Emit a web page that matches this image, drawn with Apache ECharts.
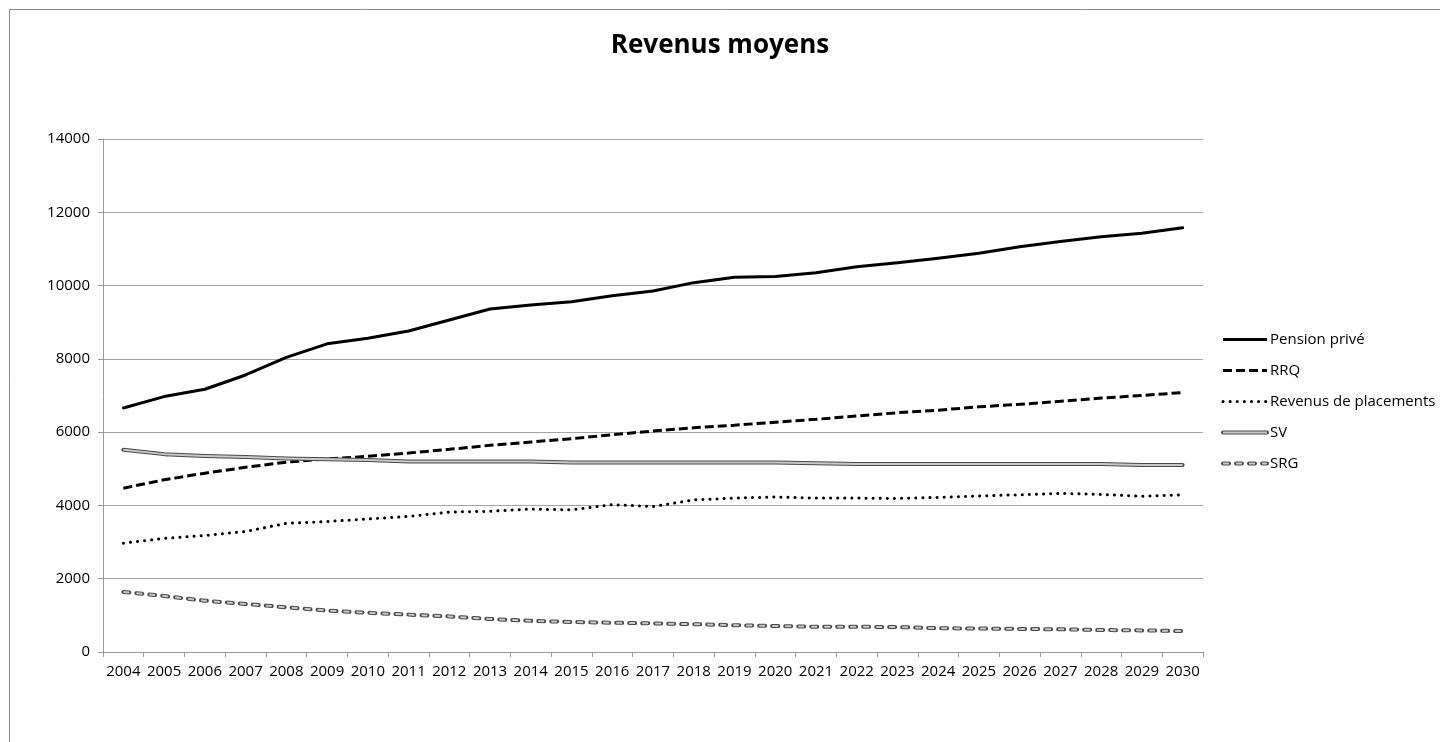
<!DOCTYPE html>
<html>
<head>
<meta charset="utf-8">
<title>Revenus moyens</title>
<script src="https://cdn.jsdelivr.net/npm/echarts@6/dist/echarts.min.js"></script>
<style>
    html, body { margin: 0; padding: 0; background: #fff; }
    #revenus_chart { width: 1440px; height: 742px; }
</style>
</head>
<body>
<div id="revenus_chart"></div>
<script>
// donnees
var years = ['2004', '2005', '2006', '2007', '2008', '2009', '2010', '2011', '2012', '2013', '2014', '2015', '2016', '2017',
    '2018', '2019', '2020', '2021', '2022', '2023', '2024', '2025', '2026', '2027', '2028', '2029', '2030'];
var pensionPrive = [6660, 6970, 7170, 7560, 8040, 8410, 8560, 8760, 9060, 9360, 9470, 9560, 9720, 9850,
    10080, 10225, 10250, 10350, 10515, 10625, 10745, 10880, 11060, 11200, 11335, 11425, 11580];
var rrq = [4470, 4700, 4880, 5040, 5180, 5270, 5340, 5430, 5530, 5640, 5730, 5820, 5930, 6030,
    6120, 6190, 6270, 6350, 6440, 6530, 6600, 6690, 6760, 6840, 6930, 7000, 7080];
var placements = [2970, 3100, 3180, 3290, 3510, 3560, 3630, 3700, 3820, 3840, 3900, 3880, 4020, 3970,
    4150, 4200, 4230, 4200, 4200, 4190, 4220, 4260, 4290, 4330, 4300, 4250, 4290];
var sv = [5520, 5400, 5350, 5320, 5280, 5260, 5240, 5200, 5200, 5200, 5200, 5170, 5170, 5170,
    5170, 5170, 5170, 5150, 5130, 5130, 5130, 5130, 5130, 5130, 5130, 5100, 5100];
var srg = [1640, 1530, 1400, 1310, 1220, 1130, 1070, 1020, 970, 900, 850, 820, 800, 780,
    760, 730, 710, 690, 690, 680, 650, 640, 630, 620, 600, 590, 570];
var yTicks = { min: 0, max: 14000, interval: 2000 };

var FONT = 'Open Sans';

// icones de legende dessinees en svg (lignes simples et doubles)
function svgIcon(lines) {
    var svg = '<svg xmlns="http://www.w3.org/2000/svg" width="48" height="14">' + lines + '</svg>';
    return 'image://data:image/svg+xml;charset=utf-8,' + encodeURIComponent(svg);
}
function iconLine(color, width, dash, cap) {
    return '<line x1="2" y1="7" x2="46" y2="7" stroke="' + color + '" stroke-width="' + width + '"' +
        (dash ? ' stroke-dasharray="' + dash + '"' : '') +
        ' stroke-linecap="' + (cap || 'butt') + '"/>';
}
var icons = {
    pension: svgIcon(iconLine('#000', 3)),
    rrq: svgIcon(iconLine('#000', 3, '9 4')),
    placements: svgIcon(iconLine('#000', 3, '0.1 7', 'round')),
    sv: svgIcon(iconLine('#4a4a4a', 4, null, 'round') + iconLine('#c8c8c8', 2)),
    srg: svgIcon(iconLine('#4a4a4a', 4, '6 7', 'round') + iconLine('#c8c8c8', 2, '6 7'))
};

var myChart = echarts.init(document.getElementById('revenus_chart'));

var option = {
    animation: false,
    backgroundColor: '#fff',
    title: {
        text: 'Revenus moyens',
        left: 'center',
        top: 28,
        textStyle: { fontFamily: FONT, fontSize: 26, fontWeight: 'bold', color: '#000' }
    },
    graphic: [{
        type: 'rect',
        shape: { x: 9.5, y: 9.5, width: 1500, height: 800 },
        style: { fill: 'none', stroke: '#8c8c8c', lineWidth: 1 },
        silent: true
    }],
    legend: {
        orient: 'vertical',
        left: 1216,
        top: 327,
        itemWidth: 48,
        itemHeight: 14,
        itemGap: 16,
        textStyle: { fontFamily: FONT, fontSize: 15, color: '#000', padding: [0, 0, 0, -4] },
        data: [
            { name: 'Pension privé', icon: icons.pension },
            { name: 'RRQ', icon: icons.rrq },
            { name: 'Revenus de placements', icon: icons.placements },
            { name: 'SV', icon: icons.sv },
            { name: 'SRG', icon: icons.srg }
        ]
    },
    grid: { left: 103, right: 237, top: 139, bottom: 90, containLabel: false },
    xAxis: {
        type: 'category',
        data: years,
        boundaryGap: true,
        axisLine: { lineStyle: { color: '#9a9a9a', width: 1 } },
        axisTick: { show: true, length: 5, lineStyle: { color: '#9a9a9a' } },
        axisLabel: { interval: 0, margin: 12, fontFamily: FONT, fontSize: 15, color: '#000' },
        splitLine: { show: false }
    },
    yAxis: {
        type: 'value',
        min: yTicks.min,
        max: yTicks.max,
        interval: yTicks.interval,
        axisLine: { show: true, lineStyle: { color: '#9a9a9a', width: 1 } },
        axisTick: { show: true, length: 5, lineStyle: { color: '#9a9a9a' } },
        axisLabel: {
            margin: 13, fontFamily: FONT, fontSize: 15, color: '#000',
            formatter: function (v) { return String(v); }
        },
        splitLine: { show: true, lineStyle: { color: '#a6a6a6', width: 1 } }
    },
    series: [
        {
            name: 'Pension privé', type: 'line', data: pensionPrive, symbol: 'none', silent: true,
            lineStyle: { color: '#000', width: 3, cap: 'round', join: 'round' },
            itemStyle: { color: '#000' }
        },
        {
            name: 'RRQ', type: 'line', data: rrq, symbol: 'none', silent: true,
            lineStyle: { color: '#000', width: 3, type: [9, 4] },
            itemStyle: { color: '#000' }
        },
        {
            name: 'Revenus de placements', type: 'line', data: placements, symbol: 'none', silent: true,
            lineStyle: { color: '#000', width: 3, type: [0.1, 7], cap: 'round' },
            itemStyle: { color: '#000' }
        },
        {
            name: 'SV', type: 'line', data: sv, symbol: 'none', silent: true,
            lineStyle: { color: '#4a4a4a', width: 4, cap: 'round', join: 'round' },
            itemStyle: { color: '#4a4a4a' }
        },
        {
            name: 'SV interieur', type: 'line', data: sv, symbol: 'none', silent: true,
            lineStyle: { color: '#c8c8c8', width: 2, join: 'round' }
        },
        {
            name: 'SRG', type: 'line', data: srg, symbol: 'none', silent: true,
            lineStyle: { color: '#4a4a4a', width: 4, type: [6, 7], cap: 'round' },
            itemStyle: { color: '#4a4a4a' }
        },
        {
            name: 'SRG interieur', type: 'line', data: srg, symbol: 'none', silent: true,
            lineStyle: { color: '#c8c8c8', width: 2, type: [6, 7] }
        }
    ]
};

myChart.setOption(option);
</script>
</body>
</html>
